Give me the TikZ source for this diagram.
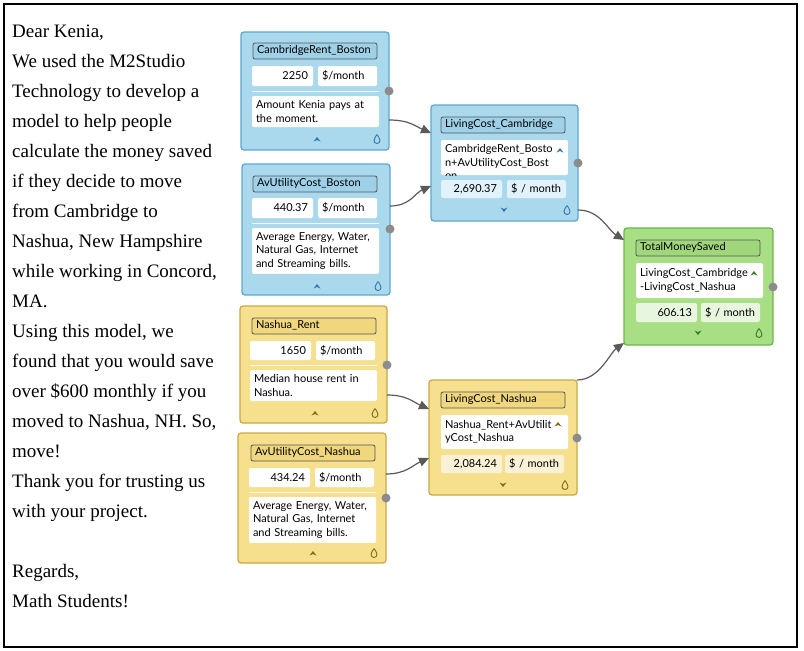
\documentclass[tikz,border=0pt]{standalone}
\usepackage{fontspec}
\setmainfont{Liberation Serif}
\newfontfamily\boxfont{Lato}
\usetikzlibrary{arrows.meta,calc}
\definecolor{bfill}{RGB}{170,217,238}
\definecolor{bline}{RGB}{92,168,208}
\definecolor{btitle}{RGB}{158,209,232}
\definecolor{bval}{RGB}{226,242,250}
\definecolor{bicon}{RGB}{50,120,170}
\definecolor{yfill}{RGB}{246,224,142}
\definecolor{yline}{RGB}{200,170,70}
\definecolor{ytitle}{RGB}{240,215,125}
\definecolor{yval}{RGB}{250,241,214}
\definecolor{yicon}{RGB}{130,105,20}
\definecolor{gfill}{RGB}{168,222,132}
\definecolor{gline}{RGB}{105,185,70}
\definecolor{gtitle}{RGB}{160,215,122}
\definecolor{gval}{RGB}{232,246,224}
\definecolor{gicon}{RGB}{55,120,35}
\definecolor{portgray}{RGB}{140,140,140}
\definecolor{wiregray}{RGB}{90,90,90}
\definecolor{titleline}{RGB}{85,85,85}
\tikzset{
  card/.style={draw, line width=1.3pt, rounded corners=3pt, anchor=north west, inner sep=0pt, outer sep=0pt},
  bluecard/.style={card, fill=bfill, draw=bline},
  yellowcard/.style={card, fill=yfill, draw=yline},
  greencard/.style={card, fill=gfill, draw=gline},
  field/.style={anchor=north west, rounded corners=2pt, outer sep=0pt, font=\boxfont\fontsize{11}{13.5}\selectfont},
  titlefield/.style={field, draw=titleline, line width=0.8pt, minimum height=16pt, text width=116pt, inner xsep=4pt, inner ysep=0pt, align=left, text depth=2.5pt},
  valfield/.style={field, minimum height=20pt, text width=51pt, inner xsep=5pt, inner ysep=0pt, align=right},
  unitfield/.style={field, minimum height=20pt, text width=51pt, inner xsep=4pt, inner ysep=0pt, align=left},
  descfield/.style={field, fill=white, text width=119pt, inner xsep=4pt, inner ysep=4.5pt, align=left},
  sepline/.style={white, line width=1pt, opacity=0.8},
  port/.style={circle, fill=portgray, inner sep=0pt, minimum size=9pt},
  wire/.style={draw=wiregray, line width=1.2pt, -{Triangle[length=10pt,width=9pt]}},
  letter/.style={font=\fontsize{19}{30}\selectfont, align=left, inner sep=0pt, anchor=north west},
  chevup/.pic={\fill (-3.5,2.5) -- (0,-2) -- (3.5,2.5) -- (0,1) -- cycle;},
  chevdown/.pic={\fill (-3.5,-2.5) -- (0,2) -- (3.5,-2.5) -- (0,-1) -- cycle;},
  dropicon/.pic={\draw[line width=0.9pt] (0,-4.5) .. controls (1,-2.5) and (3,-0.8) .. (3,1.5) arc[start angle=0,end angle=180,radius=3] .. controls (-3,-0.8) and (-1,-2.5) .. (0,-4.5);}
}
\begin{document}
\begin{tikzpicture}[x=1pt,y=-1pt]
\useasboundingbox (0,0) rectangle (804,651);
\draw[line width=1.5pt] (4,4) rectangle (797,647);
% letter
\node[letter] (letter) at (12,25) {Dear Kenia,\\We used the M2Studio\\Technology to develop a\\model to help people\\calculate the money saved\\if they decide to move\\from Cambridge to\\Nashua, New Hampshire\\while working in Concord,\\MA.\\Using this model, we\\found that you would save\\over \$600 monthly if you\\moved to Nashua, NH. So,\\move!\\Thank you for trusting us\\with your project.\\[30pt]Regards,\\Math Students!};
% CambridgeRent_Boston
\node[bluecard, minimum width=148, minimum height=118] (cb) at (241,32) {};
\node[titlefield, fill=btitle] (cb-t) at (253,43) {CambridgeRent\_Boston};
\node[valfield, fill=white] (cb-v) at (252,66) {2250};
\node[unitfield, fill=white] (cb-u) at (318,66) {\$/month};
\draw[sepline] (252,91) -- (379,91);
\node[descfield, minimum height=31] (cb-d) at (252,96) {Amount Kenia pays at\\the moment.};
\pic[bicon] at (317,139) {chevup};
\pic[bicon] at (377,139) {dropicon};
\node[port] (cb-p) at (389,91) {};
% AvUtilityCost_Boston
\node[bluecard, minimum width=148, minimum height=131] (ab) at (242,164) {};
\node[titlefield, fill=btitle] (ab-t) at (253,176) {AvUtilityCost\_Boston};
\node[valfield, fill=white] (ab-v) at (252,198) {440.37};
\node[unitfield, fill=white] (ab-u) at (318,198) {\$/month};
\draw[sepline] (252,223) -- (379,223);
\node[descfield, minimum height=45] (ab-d) at (252,228) {Average Energy, Water,\\Natural Gas, Internet\\and Streaming bills.};
\pic[bicon] at (317,286) {chevup};
\pic[bicon] at (378,286) {dropicon};
\node[port] (ab-p) at (390,229) {};
% LivingCost_Cambridge
\node[bluecard, minimum width=147, minimum height=116] (lcc) at (431,105) {};
\node[titlefield, fill=btitle] (lcc-t) at (441,117) {LivingCost\_Cambridge};
\begin{scope}
\clip[rounded corners=2pt] (441,140) rectangle (568,175);
\node[descfield, minimum height=35] (lcc-f) at (441,140) {CambridgeRent\_Bosto\\n+AvUtilityCost\_Bost\\on};
\end{scope}
\pic[bicon] at (560,150) {chevup};
\node[valfield, fill=bval, minimum height=18] (lcc-v) at (441,180) {2,690.37};
\node[unitfield, fill=bval, minimum height=18] (lcc-u) at (507,180) {\$ / month};
\pic[bicon] at (504,210) {chevdown};
\pic[bicon] at (567,210) {dropicon};
\node[port] (lcc-p) at (578,163) {};
% TotalMoneySaved
\node[greencard, minimum width=149, minimum height=117] (tms) at (624,228) {};
\node[titlefield, fill=gtitle] (tms-t) at (636,240) {TotalMoneySaved};
\node[descfield, minimum height=35] (tms-f) at (636,263) {LivingCost\_Cambridge\\-LivingCost\_Nashua};
\pic[gicon] at (754,273) {chevup};
\node[valfield, fill=gval, minimum height=19] (tms-v) at (636,303) {606.13};
\node[unitfield, fill=gval, minimum height=19] (tms-u) at (701,303) {\$ / month};
\pic[gicon] at (698,333) {chevdown};
\pic[gicon] at (759,333) {dropicon};
\node[port] (tms-p) at (773,287) {};
% Nashua_Rent
\node[yellowcard, minimum width=147, minimum height=117] (nr) at (240,306) {};
\node[titlefield, fill=ytitle] (nr-t) at (252,318) {Nashua\_Rent};
\node[valfield, fill=white, minimum height=19] (nr-v) at (250,341) {1650};
\node[unitfield, fill=white, minimum height=19] (nr-u) at (316,341) {\$/month};
\draw[sepline] (250,365) -- (377,365);
\node[descfield, minimum height=31] (nr-d) at (250,370) {Median house rent in\\Nashua.};
\pic[yicon] at (315,413) {chevup};
\pic[yicon] at (375,413) {dropicon};
\node[port] (nr-p) at (387,365) {};
% AvUtilityCost_Nashua
\node[yellowcard, minimum width=148, minimum height=130] (an) at (238,433) {};
\node[titlefield, fill=ytitle] (an-t) at (251,445) {AvUtilityCost\_Nashua};
\node[valfield, fill=white, minimum height=19] (an-v) at (249,468) {434.24};
\node[unitfield, fill=white, minimum height=19] (an-u) at (315,468) {\$/month};
\draw[sepline] (249,492) -- (376,492);
\node[descfield, minimum height=43] (an-d) at (249,497) {Average Energy, Water,\\Natural Gas, Internet\\and Streaming bills.};
\pic[yicon] at (313,553) {chevup};
\pic[yicon] at (374,553) {dropicon};
\node[port] (an-p) at (386,498) {};
% LivingCost_Nashua
\node[yellowcard, minimum width=148, minimum height=115] (lcn) at (429,380) {};
\node[titlefield, fill=ytitle] (lcn-t) at (441,392) {LivingCost\_Nashua};
\node[descfield, minimum height=34] (lcn-f) at (441,415) {Nashua\_Rent+AvUtilit\\yCost\_Nashua};
\pic[yicon] at (558,424) {chevup};
\node[valfield, fill=yval, minimum height=18] (lcn-v) at (441,455) {2,084.24};
\node[unitfield, fill=yval, minimum height=18] (lcn-u) at (505,455) {\$ / month};
\pic[yicon] at (503,485) {chevdown};
\pic[yicon] at (565,485) {dropicon};
\node[port] (lcn-p) at (577,438) {};
% connectors
\draw[wire] ($(cb.north east)+(0,88)$) .. controls +(20,0) and +(-16,-7) .. ($(lcc.north west)+(0,28)$);
\draw[wire] ($(ab.north east)+(0,42)$) .. controls +(20,0) and +(-16,7) .. ($(lcc.north west)+(0,81)$);
\draw[wire] ($(lcc.north east)+(0,105)$) .. controls +(22,0) and +(-16,-10) .. ($(tms.north west)+(0,12)$);
\draw[wire] (lcn.north east) .. controls +(22,0) and +(-14,10) .. ($(tms.north west)+(0,115)$);
\draw[wire] ($(nr.north east)+(0,89)$) .. controls +(20,0) and +(-16,-7) .. ($(lcn.north west)+(0,29)$);
\draw[wire] ($(an.north east)+(0,41)$) .. controls +(20,0) and +(-16,7) .. ($(lcn.north west)+(0,78)$);
\end{tikzpicture}
\end{document}
